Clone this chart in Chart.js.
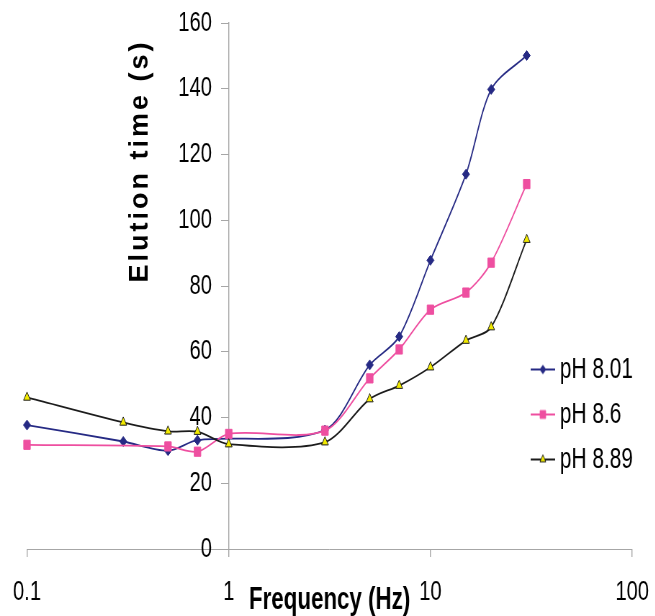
<!DOCTYPE html>
<html>
<head>
<meta charset="utf-8">
<title>Elution time vs frequency</title>
<script src="https://cdn.jsdelivr.net/npm/chart.js@4.4.1/dist/chart.umd.min.js"></script>
<style>
  html, body { margin: 0; padding: 0; background: #fff; overflow: hidden; }
  /* the chart is laid out wide and squeezed horizontally, which gives the tall narrow lettering */
  #wrap { width: 910px; height: 616px; transform: scaleX(0.72); transform-origin: 0 0; }
  canvas { display: block; }
</style>
</head>
<body>
<div id="wrap"><canvas id="elutionChart" width="910" height="616"></canvas></div>
<script>
// Applied frequency (Hz) and elution time (s) for each buffer pH
var freqs = [0.1, 0.3, 0.5, 0.7, 1, 3, 5, 7, 10, 15, 20, 30];
var ph801 = [37.7, 32.7, 29.9, 33.1, null, 36.2, 56.0, 64.6, 87.8, 114.0, 139.8, 150.1];
var ph86  = [31.7, null, 31.2, 29.6, 35.0, 36.0, 51.9, 60.7, 72.8, 78.0, 87.1, 111.0];
var ph889 = [46.1, 38.5, 35.8, 35.7, 31.9, 32.5, 45.6, 49.7, 55.3, 63.4, 67.5, 94.1];
var seriesNames = ['pH 8.01', 'pH 8.6', 'pH 8.89'];
var xTicks = [0.1, 1, 10, 100];
var yTicks = [0, 20, 40, 60, 80, 100, 120, 140, 160];
var xTitle = 'Frequency (Hz)';
var yTitle = 'Elution time (s)';

var SQUEEZE = 0.72;
var FONT = '"Liberation Sans", Arial, sans-serif';
var AXIS_GREY = '#a6a6a6';

var styles = [
  { line: '#262a84', fill: '#262a84', shape: 'rectRot', radius: 5 },
  { line: '#ee4fa0', fill: '#ee4fa0', shape: 'rect', radius: 6.5 },
  { line: '#1c1c1c', fill: '#f2ea00', shape: 'triangle', radius: 5.5 }
];

function toPoints(values) {
  return freqs.map(function (f, i) { return { x: f, y: values[i] }; });
}

// small "line with marker" swatches for the legend
function legendIcon(st) {
  var c = document.createElement('canvas');
  c.width = 34; c.height = 14;
  var g = c.getContext('2d');
  g.strokeStyle = st.line;
  g.lineWidth = 1.8;
  g.beginPath(); g.moveTo(0, 7); g.lineTo(34, 7); g.stroke();
  g.fillStyle = st.fill;
  g.lineWidth = 1;
  Chart.helpers.drawPoint(g, { pointStyle: st.shape, radius: st.radius * 0.85, rotation: 0, borderWidth: 1 }, 17, 7);
  return c;
}

// later series are drawn on top, so give them the lower order
function makeDataset(name, values, st, order) {
  return {
    label: name,
    data: toPoints(values),
    order: order,
    borderColor: st.line,
    borderWidth: 1.8,
    backgroundColor: st.fill,
    pointStyle: st.shape,
    pointRadius: st.radius,
    pointBorderColor: st.line,
    pointBackgroundColor: st.fill,
    pointBorderWidth: 1,
    tension: 0.3,
    spanGaps: true,
    clip: false
  };
}

var icons = styles.map(legendIcon);

var chartTweaks = {
  id: 'chartTweaks',
  // legend sits inside the plot, to the right of the curves
  afterLayout: function (chart) {
    var area = chart.chartArea;
    var lg = chart.legend;
    lg.left = area.right - 149;
    lg.right = chart.width;
    lg.top = area.top + 316;
    lg.bottom = area.bottom;
  },
  // vertical axis title, drawn unsqueezed
  afterDraw: function (chart) {
    var ctx = chart.ctx;
    ctx.save();
    ctx.translate(140 / SQUEEZE, 161);
    ctx.scale(1 / SQUEEZE, 1);
    ctx.rotate(-Math.PI / 2);
    ctx.font = 'bold 27px ' + FONT;
    ctx.letterSpacing = '3px';
    ctx.textAlign = 'center';
    ctx.textBaseline = 'middle';
    ctx.fillStyle = '#000';
    ctx.fillText(yTitle, 0, 0);
    ctx.restore();
  }
};

new Chart(document.getElementById('elutionChart'), {
  type: 'line',
  data: {
    datasets: [
      makeDataset(seriesNames[0], ph801, styles[0], 2),
      makeDataset(seriesNames[1], ph86, styles[1], 1),
      makeDataset(seriesNames[2], ph889, styles[2], 0)
    ]
  },
  options: {
    responsive: false,
    animation: false,
    devicePixelRatio: 1,
    layout: { padding: { left: 37.5, right: 32, top: 23, bottom: 0 } },
    scales: {
      x: {
        type: 'logarithmic',
        position: 'bottom',
        min: 0.1,
        max: 100,
        afterBuildTicks: function (scale) {
          scale.ticks = xTicks.map(function (v) { return { value: v }; });
        },
        afterFit: function (scale) {
          scale.height = 67;
          scale.paddingLeft = 0;
          scale.paddingRight = 0;
        },
        ticks: {
          autoSkip: false,
          maxRotation: 0,
          padding: 18,
          color: '#000',
          font: { family: FONT, size: 28 },
          callback: function (value) { return String(value); }
        },
        grid: { drawOnChartArea: false, color: AXIS_GREY, tickLength: 8, lineWidth: 1.4 },
        border: { color: AXIS_GREY, width: 1 },
        title: {
          display: true,
          text: xTitle,
          color: '#000',
          font: { family: FONT, size: 31, weight: 'bold', lineHeight: 1 },
          padding: 0
        }
      },
      y: {
        type: 'linear',
        position: { x: 1 },
        min: 0,
        max: 160,
        afterBuildTicks: function (scale) {
          scale.ticks = yTicks.map(function (v) { return { value: v }; });
        },
        afterFit: function (scale) {
          scale.paddingTop = 0;
          scale.paddingBottom = 0;
        },
        ticks: {
          color: '#000',
          font: { family: FONT, size: 28 },
          // labels of an axis placed at a value sit flush with it; keep a gap
          callback: function (value) { return value + '   '; }
        },
        grid: { drawOnChartArea: false, color: AXIS_GREY, tickLength: 10 },
        border: { color: AXIS_GREY, width: 1.4 }
      }
    },
    plugins: {
      legend: {
        position: 'chartArea',
        align: 'start',
        fullSize: false,
        labels: {
          usePointStyle: true,
          boxWidth: 18,
          padding: 16,
          color: '#000',
          font: { family: FONT, size: 29 },
          sort: function (a, b) { return a.datasetIndex - b.datasetIndex; },
          generateLabels: function (chart) {
            var items = Chart.defaults.plugins.legend.labels.generateLabels(chart);
            items.forEach(function (it) { it.pointStyle = icons[it.datasetIndex]; });
            return items;
          }
        }
      },
      tooltip: { enabled: false }
    }
  },
  plugins: [chartTweaks]
});
</script>
</body>
</html>
